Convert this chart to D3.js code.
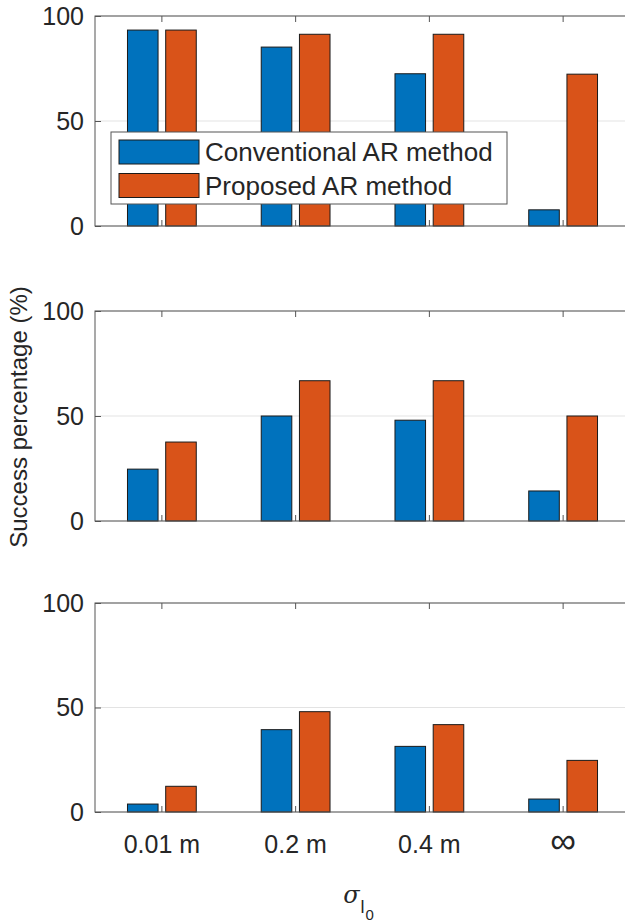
<!DOCTYPE html>
<html>
<head>
<meta charset="utf-8">
<script src="https://cdn.jsdelivr.net/npm/d3@7"></script>
<style>
  html, body { margin: 0; padding: 0; background: #fff; }
  svg { display: block; }
  text { font-family: "Liberation Sans", Arial, Helvetica, sans-serif; fill: #262626; }
</style>
</head>
<body>
<svg id="chart" width="625" height="922"></svg>
<script>
// Categories (sigma of l0) and series
const categories = ["0.01 m", "0.2 m", "0.4 m", "\u221E"];
const seriesNames = ["Conventional AR method", "Proposed AR method"];
const seriesColors = ["#0072BD", "#D95319"];

// Success percentage per panel
const conventionalTop = [93.3, 85.2, 72.5, 7.7];
const proposedTop     = [93.3, 91.3, 91.3, 72.3];
const conventionalMid = [24.7, 50.0, 48.0, 14.3];
const proposedMid     = [37.6, 66.8, 66.8, 50.0];
const conventionalBot = [3.8, 39.4, 31.4, 6.2];
const proposedBot     = [12.3, 48.0, 41.8, 24.7];

const yTickValues = [0, 50, 100];

const panels = [
  { conv: conventionalTop, prop: proposedTop, top: 16,  bottom: 226, legend: true,  xLabels: false },
  { conv: conventionalMid, prop: proposedMid, top: 311, bottom: 521, legend: false, xLabels: false },
  { conv: conventionalBot, prop: proposedBot, top: 603, bottom: 812, legend: false, xLabels: true }
];

const svg = d3.select("#chart");
const left = 95, right = 630;
const tickLen = 6;
const fontSize = 25;

const x = d3.scaleBand().domain(categories).range([left, right]).paddingInner(0).paddingOuter(0);
const bw = x.bandwidth();
// MATLAB-style grouped bars: group width 2/3.5 of the slot, each bar 80% of its sub-slot
const groupW = bw * 2 / 3.5;
const xInner = d3.scaleBand().domain(seriesNames).range([0, groupW]);
const barW = xInner.bandwidth() * 0.8;

panels.forEach(p => {
  const y = d3.scaleLinear().domain([0, 100]).range([p.bottom, p.top]);
  const g = svg.append("g");

  // horizontal grid
  g.append("g").selectAll("line").data(yTickValues).join("line")
    .attr("x1", left).attr("x2", right)
    .attr("y1", d => y(d)).attr("y2", d => y(d))
    .attr("stroke", "#e3e3e3").attr("stroke-width", 1);

  // bars
  const rows = categories.map((c, i) => ({ c, vals: [p.conv[i], p.prop[i]] }));
  const grp = g.append("g").selectAll("g").data(rows).join("g")
    .attr("transform", d => `translate(${x(d.c) + bw / 2 - groupW / 2},0)`);
  grp.selectAll("rect").data(d => d.vals.map((v, k) => ({ v, k }))).join("rect")
    .attr("x", d => xInner(seriesNames[d.k]) + (xInner.bandwidth() - barW) / 2)
    .attr("width", barW)
    .attr("y", d => y(d.v))
    .attr("height", d => y(0) - y(d.v))
    .attr("fill", d => seriesColors[d.k])
    .attr("stroke", "#1a1a1a").attr("stroke-width", 1);

  // axes with inward ticks
  const yAxis = d3.axisLeft(y).tickValues(yTickValues).tickSize(-tickLen).tickPadding(11);
  const ya = g.append("g").attr("transform", `translate(${left},0)`).call(yAxis);
  const xb = d3.axisBottom(x).tickSize(-tickLen).tickPadding(23);
  const xa = g.append("g").attr("transform", `translate(0,${p.bottom})`).call(xb);
  const xt = d3.axisTop(x).tickSize(-tickLen).tickFormat("");
  const xta = g.append("g").attr("transform", `translate(0,${p.top})`).call(xt);
  if (!p.xLabels) xa.selectAll("text").remove();

  [ya, xa, xta].forEach(a => {
    a.select(".domain").remove();
    a.selectAll(".tick line").attr("stroke", "#555");
    a.selectAll("text").attr("font-size", fontSize).attr("fill", "#262626")
      .attr("font-family", "Liberation Sans, Arial, sans-serif");
  });
  // the infinity glyph is drawn larger, as in TeX symbol fonts
  xa.selectAll(".tick text").filter(d => d === "\u221E")
    .attr("font-size", 36).attr("dy", "0.5em");

  // box
  g.append("rect").attr("x", left).attr("y", p.top)
    .attr("width", right - left).attr("height", p.bottom - p.top)
    .attr("fill", "none").attr("stroke", "#555").attr("stroke-width", 1);

  if (p.legend) {
    const lg = g.append("g");
    lg.append("rect").attr("x", 111).attr("y", 132).attr("width", 396).attr("height", 72)
      .attr("fill", "#fff").attr("stroke", "#555").attr("stroke-width", 1);
    const items = lg.selectAll("g.item").data(seriesNames).join("g")
      .attr("transform", (d, i) => `translate(119,${140 + i * 33.5})`);
    items.append("rect").attr("width", 80).attr("height", 24)
      .attr("fill", (d, i) => seriesColors[i]).attr("stroke", "#1a1a1a").attr("stroke-width", 1);
    items.append("text").attr("x", 86).attr("y", 12).attr("dy", "0.35em")
      .attr("font-size", 26).text(d => d);
  }
});

// y-axis label
svg.append("text")
  .attr("transform", "translate(27,417) rotate(-90)")
  .attr("text-anchor", "middle").attr("font-size", 24)
  .text("Success percentage (%)");

// x-axis label: sigma with nested subscripts l and 0
const xl = svg.append("text").attr("x", (left + right) / 2 - 4).attr("y", 903)
  .attr("text-anchor", "middle");
xl.append("tspan").attr("font-size", 24).attr("font-style", "italic")
  .attr("font-family", "DejaVu Serif, serif").text("\u03C3");
xl.append("tspan").attr("font-size", 18).attr("dy", 10).attr("dx", 1).text("l");
xl.append("tspan").attr("font-size", 15).attr("dy", 7).attr("dx", 1).text("0");
</script>
</body>
</html>
